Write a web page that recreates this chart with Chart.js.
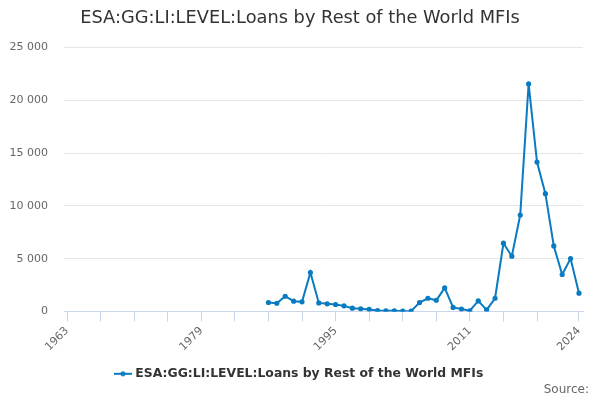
<!DOCTYPE html>
<html>
<head>
<meta charset="utf-8">
<script src="https://cdn.jsdelivr.net/npm/chart.js@4"></script>
<style>
  html, body { margin: 0; padding: 0; background: #fff; }
  #wrap { width: 600px; height: 400px; }
</style>
</head>
<body>
<div id="wrap"><canvas id="line-chart"></canvas></div>
<script>
var years = [1987, 1988, 1989, 1990, 1991, 1992, 1993, 1994, 1995, 1996,
    1997, 1998, 1999, 2000, 2001, 2002, 2003, 2004, 2005, 2006,
    2007, 2008, 2009, 2010, 2011, 2012, 2013, 2014, 2015, 2016,
    2017, 2018, 2019, 2020, 2021, 2022, 2023, 2024];
var loans = [850, 780, 1440, 970, 910, 3690, 810, 720, 660, 530,
    310, 250, 190, 90, 60, 60, 30, 30, 845, 1250,
    1060, 2230, 380, 230, 70, 1000, 150, 1250, 6460, 5230,
    9130, 21540, 14140, 11150, 6200, 3500, 5010, 1730];
var xTicks = [1963, 1967, 1971, 1975, 1979, 1983, 1987, 1991, 1995, 1999,
    2003, 2007, 2011, 2015, 2019, 2024];
var xLabels = [1963, 1979, 1995, 2011, 2024];
var yTicks = [0, 5000, 10000, 15000, 20000, 25000];

var seriesName = "ESA:GG:LI:LEVEL:Loans by Rest of the World MFIs";
var sourceText = "Source:";
var lineColor = "#0a7bc1";

var points = [];
for (var i = 0; i < years.length; i++) {
    points.push({ x: years[i], y: loans[i] });
}

// legend symbol: short line with a dot
var sym = document.createElement("canvas");
sym.width = 18;
sym.height = 8;
var sc = sym.getContext("2d");
sc.strokeStyle = lineColor;
sc.lineWidth = 2;
sc.beginPath();
sc.moveTo(0, 4);
sc.lineTo(18, 4);
sc.stroke();
sc.fillStyle = lineColor;
sc.beginPath();
sc.arc(9, 4, 2.5, 0, Math.PI * 2);
sc.fill();

function spaced(v) {
    return String(v).replace(/\B(?=(\d{3})+(?!\d))/g, " ");
}

// "Source:" credit in the bottom right corner
var sourcePlugin = {
    id: 'sourceText',
    afterDraw: function (chart) {
        var ctx = chart.ctx;
        ctx.save();
        ctx.font = "12px 'DejaVu Sans', Verdana, sans-serif";
        ctx.fillStyle = "#666666";
        ctx.textAlign = "right";
        ctx.textBaseline = "middle";
        ctx.fillText(sourceText, 589, 390);
        ctx.restore();
    }
};

Chart.defaults.font.family = "'DejaVu Sans', Verdana, sans-serif";

new Chart(document.getElementById("line-chart"), {
    type: 'line',
    data: {
        datasets: [{
            label: seriesName,
            data: points,
            borderColor: lineColor,
            backgroundColor: lineColor,
            borderWidth: 2,
            pointRadius: 1.6,
            pointHoverRadius: 4,
            tension: 0,
            fill: false
        }]
    },
    plugins: [sourcePlugin],
    options: {
        responsive: true,
        maintainAspectRatio: false,
        animation: false,
        layout: { padding: { left: 10, right: 10, top: 0, bottom: 10 } },
        plugins: {
            title: {
                display: true,
                text: seriesName,
                color: "#333333",
                font: { size: 17.8, weight: 'normal' },
                padding: { top: 8, bottom: 18 }
            },
            legend: {
                position: 'bottom',
                labels: {
                    color: "#333333",
                    font: { size: 12.4, weight: 'bold' },
                    usePointStyle: true,
                    pointStyle: sym,
                    padding: 2,
                    generateLabels: function (chart) {
                        var items = Chart.defaults.plugins.legend.labels.generateLabels(chart);
                        items.forEach(function (it) { it.pointStyle = sym; });
                        return items;
                    }
                }
            },
            tooltip: { enabled: true }
        },
        scales: {
            x: {
                type: 'linear',
                min: 1962.64,
                max: 2024.48,
                afterBuildTicks: function (axis) {
                    axis.ticks = xTicks.map(function (v) { return { value: v }; });
                },
                afterFit: function (axis) {
                    axis.height += 9;
                },
                grid: {
                    drawOnChartArea: false,
                    drawTicks: true,
                    tickLength: 10,
                    color: "#ccd6eb"
                },
                border: { color: "#ccd6eb" },
                ticks: {
                    autoSkip: false,
                    maxRotation: 45,
                    minRotation: 45,
                    color: "#666666",
                    font: { size: 11 },
                    callback: function (v) {
                        return xLabels.indexOf(v) >= 0 ? String(v) : "";
                    }
                }
            },
            y: {
                min: 0,
                max: 25000,
                afterBuildTicks: function (axis) {
                    axis.ticks = yTicks.map(function (v) { return { value: v }; });
                },
                afterFit: function (axis) {
                    axis.width = 54;
                },
                grid: {
                    color: "#e6e6e6",
                    drawTicks: false
                },
                border: { display: false },
                ticks: {
                    color: "#666666",
                    font: { size: 11 },
                    padding: 16,
                    callback: function (v) { return spaced(v); }
                }
            },
            yRight: {
                position: 'right',
                afterFit: function (axis) {
                    axis.width = 7;
                },
                grid: { display: false },
                border: { display: false },
                ticks: { display: false }
            }
        }
    }
});
</script>
</body>
</html>
